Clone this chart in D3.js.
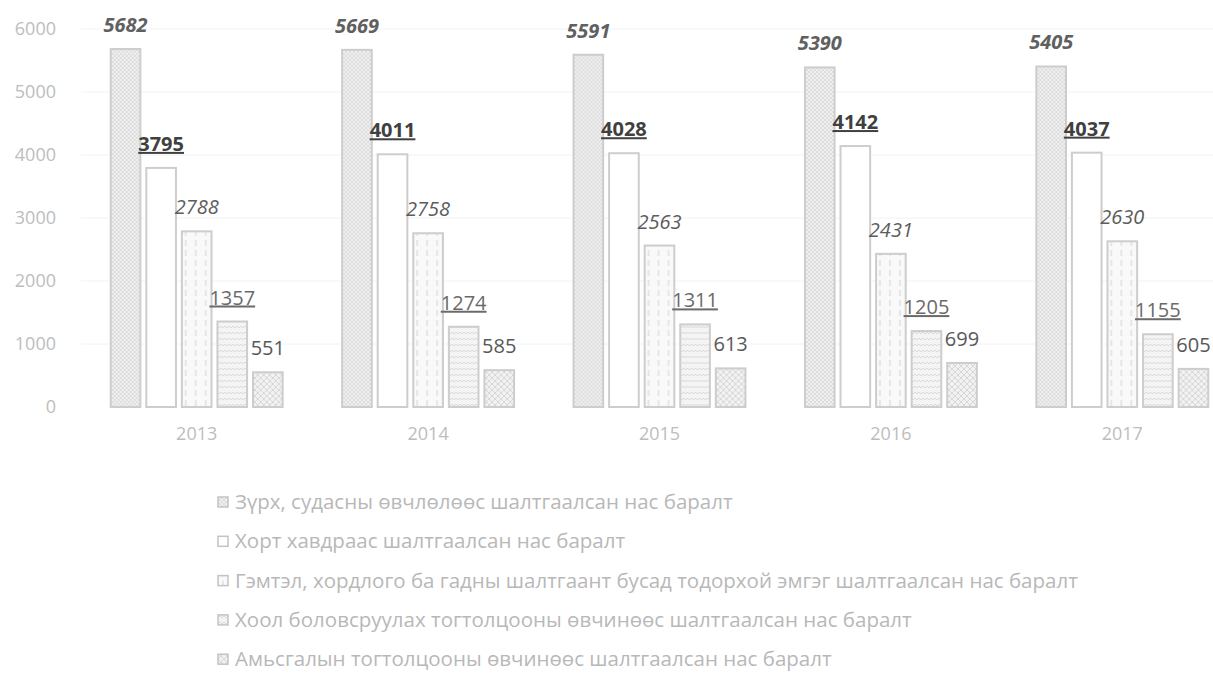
<!DOCTYPE html>
<html>
<head>
<meta charset="utf-8">
<script src="https://cdn.jsdelivr.net/npm/d3@7"></script>
<style>
    body { margin: 0; background: #fff; }
    svg { display: block; font-family: 'Open Sans', sans-serif; }
</style>
</head>
<body>
<svg id="chart" width="1213" height="677"></svg>
<script>
// values
var years = ['2013', '2014', '2015', '2016', '2017'];
var heartDeaths = [5682, 5669, 5591, 5390, 5405];
var cancerDeaths = [3795, 4011, 4028, 4142, 4037];
var injuryDeaths = [2788, 2758, 2563, 2431, 2630];
var digestiveDeaths = [1357, 1274, 1311, 1205, 1155];
var respiratoryDeaths = [551, 585, 613, 699, 605];
var seriesNames = [
    'Зүрх, судасны өвчлөлөөс шалтгаалсан нас баралт',
    'Хорт хавдраас шалтгаалсан нас баралт',
    'Гэмтэл, хордлого ба гадны шалтгаант бусад тодорхой эмгэг шалтгаалсан нас баралт',
    'Хоол боловсруулах тогтолцооны өвчинөөс шалтгаалсан нас баралт',
    'Амьсгалын тогтолцооны өвчинөөс шалтгаалсан нас баралт'
];
var yTicks = [0, 1000, 2000, 3000, 4000, 5000, 6000];

var seriesValues = [heartDeaths, cancerDeaths, injuryDeaths, digestiveDeaths, respiratoryDeaths];

// label look per series, as in the original (italic / underlined etc.)
var labelStyles = [
    { weight: 'bold', style: 'italic', deco: 'none', fill: '#606060' },
    { weight: 'bold', style: 'normal', deco: 'underline', fill: '#404040' },
    { weight: 'normal', style: 'italic', deco: 'none', fill: '#5c5c5c' },
    { weight: 'normal', style: 'normal', deco: 'underline', fill: '#6a6a6a' },
    { weight: 'normal', style: 'normal', deco: 'none', fill: '#585858' }
];

var svg = d3.select('#chart');
var defs = svg.append('defs');

// hatch patterns standing in for the Excel pattern fills
function addPattern(id, w, h, bg, draw) {
    var p = defs.append('pattern')
        .attr('id', id)
        .attr('patternUnits', 'userSpaceOnUse')
        .attr('width', w)
        .attr('height', h);
    p.append('rect').attr('width', w).attr('height', h).attr('fill', bg);
    draw(p);
}

addPattern('pat0', 4, 4, '#f0f0f0', function(p) {
    p.append('path').attr('d', 'M0 0 L4 4 M4 0 L0 4')
        .attr('stroke', '#d8d8d8').attr('stroke-width', 0.8);
});
addPattern('pat1', 4, 4, '#ffffff', function() {});
addPattern('pat2', 10, 10, '#f9f9f9', function(p) {
    p.append('line').attr('x1', 5).attr('x2', 5).attr('y1', 0).attr('y2', 6)
        .attr('stroke', '#d4d4d4').attr('stroke-width', 1);
});
addPattern('pat3', 8, 6, '#f4f4f4', function(p) {
    p.append('path').attr('d', 'M0 4 L2 2 L4 4 L6 2 L8 4')
        .attr('fill', 'none').attr('stroke', '#d6d6d6').attr('stroke-width', 0.9);
});
addPattern('pat4', 6, 6, '#f2f2f2', function(p) {
    p.append('path').attr('d', 'M0 0 L6 6 M6 0 L0 6')
        .attr('stroke', '#d6d6d6').attr('stroke-width', 1);
});

var y = d3.scaleLinear()
    .domain([0, 6000])
    .range([407, 29]);

var x0 = d3.scaleBand()
    .domain(years)
    .range([81, 1238])
    .paddingInner(0.257)
    .paddingOuter(0.1285);

var x1 = d3.scaleBand()
    .domain(d3.range(seriesValues.length))
    .range([0, x0.bandwidth()])
    .paddingInner(1 / 6);

// gridlines
svg.append('g')
    .selectAll('line')
    .data(yTicks.slice(1))
    .enter()
    .append('line')
    .attr('x1', 81)
    .attr('x2', 1213)
    .attr('y1', function(d) { return y(d); })
    .attr('y2', function(d) { return y(d); })
    .attr('stroke', '#f2f2f2')
    .attr('stroke-width', 1);

// y axis labels
var yAxis = d3.axisLeft(y).tickValues(yTicks).tickFormat(d3.format('d')).tickSize(0).tickPadding(0);
svg.append('g')
    .attr('transform', 'translate(56,0)')
    .call(yAxis)
    .call(function(g) { g.select('.domain').remove(); })
    .selectAll('text')
    .attr('font-family', "'Open Sans', sans-serif")
    .attr('font-size', 18)
    .attr('fill', '#bdbdbd');

// x axis labels
var xAxis = d3.axisBottom(x0).tickSize(0).tickPadding(0);
svg.append('g')
    .attr('transform', 'translate(0,427)')
    .call(xAxis)
    .call(function(g) { g.select('.domain').remove(); })
    .selectAll('text')
    .attr('font-family', "'Open Sans', sans-serif")
    .attr('font-size', 18)
    .attr('fill', '#bdbdbd');

// bars
var groups = svg.append('g')
    .selectAll('g')
    .data(years)
    .enter()
    .append('g')
    .attr('transform', function(d) { return 'translate(' + x0(d) + ',0)'; });

groups.selectAll('rect')
    .data(function(d, i) {
        return seriesValues.map(function(vals, s) { return { s: s, v: vals[i] }; });
    })
    .enter()
    .append('rect')
    .attr('x', function(d) { return x1(d.s); })
    .attr('width', x1.bandwidth())
    .attr('y', function(d) { return y(d.v); })
    .attr('height', function(d) { return y(0) - y(d.v); })
    .attr('fill', function(d) { return 'url(#pat' + d.s + ')'; })
    .attr('stroke', '#cdcdcd')
    .attr('stroke-width', 2);

// data labels
groups.selectAll('text.value')
    .data(function(d, i) {
        return seriesValues.map(function(vals, s) { return { s: s, v: vals[i] }; });
    })
    .enter()
    .append('text')
    .classed('value', true)
    .attr('x', function(d) { return x1(d.s) + x1.bandwidth() / 2; })
    .attr('y', function(d) { return y(d.v) - 17; })
    .attr('text-anchor', 'middle')
    .attr('font-size', 20)
    .attr('font-weight', function(d) { return labelStyles[d.s].weight; })
    .attr('font-style', function(d) { return labelStyles[d.s].style; })
    .attr('text-decoration', function(d) { return labelStyles[d.s].deco; })
    .attr('fill', function(d) { return labelStyles[d.s].fill; })
    .text(function(d) { return d.v; });

// legend
var legend = svg.append('g')
    .selectAll('g')
    .data(seriesNames)
    .enter()
    .append('g')
    .attr('transform', function(d, i) { return 'translate(218,' + (502 + i * 39.3) + ')'; });

legend.append('rect')
    .attr('x', 0)
    .attr('y', -5)
    .attr('width', 10)
    .attr('height', 10)
    .attr('fill', function(d, i) { return 'url(#pat' + i + ')'; })
    .attr('stroke', '#c4c4c4')
    .attr('stroke-width', 1.5);

legend.append('text')
    .attr('x', 17)
    .attr('y', 7)
    .attr('font-size', 20.5)
    .attr('fill', '#b8b8b8')
    .text(function(d) { return d; });
</script>
</body>
</html>
